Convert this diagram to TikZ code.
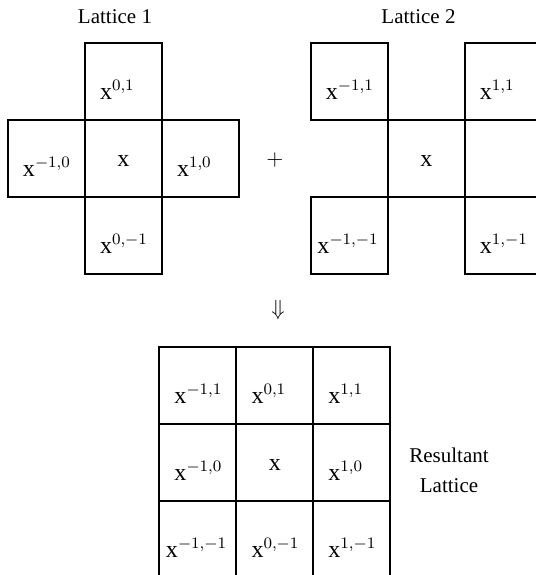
\documentclass[tikz,border=0pt]{standalone}
\usepackage{fontspec}
\setmainfont{Liberation Serif}
\usetikzlibrary{positioning}
\begin{document}
\begin{tikzpicture}[x=0.5pt,y=-0.5pt,node distance=38.5pt,on grid,
		font=\fontsize{10.5}{15}\selectfont,
		cell/.style={draw,line width=1pt,minimum size=38.5pt,inner sep=0pt,
			inner xsep=7.5pt,text width=23.5pt,align=left,
			text height=18pt,text depth=0pt,font=\fontsize{12}{14}\selectfont},
		wide/.style={cell,inner xsep=3.25pt,text width=32pt},
		mid/.style={cell,align=center,text height=8pt}]
		\useasboundingbox (0,0) rectangle (536,575);

		% lattice 1
		\node[mid]     (l1)                      at (123.5,158.5) {x};
		\node[cell]    (l1n)  [above=of l1]      {$\mathrm{x}^{0,1}$};
		\node[cell]    (l1s)  [below=of l1]      {$\mathrm{x}^{0,-1}$};
		\node[cell]    (l1w)  [left=of l1]       {$\mathrm{x}^{-1,0}$};
		\node[cell]    (l1e)  [right=of l1]      {$\mathrm{x}^{1,0}$};
		\node          (t1)                      at (115,17) {Lattice 1};

		\node          (plus)                    at (275,160) {$+$};

		% lattice 2
		\node[mid]     (l2)                      at (426.5,158.5) {x};
		\node[cell]    (l2nw) [above left=38.5pt and 38.5pt of l2]  {$\mathrm{x}^{-1,1}$};
		\node[cell]    (l2ne) [above right=38.5pt and 38.5pt of l2] {$\mathrm{x}^{1,1}$};
		\node[wide]    (l2sw) [below left=38.5pt and 38.5pt of l2]  {$\mathrm{x}^{-1,-1}$};
		\node[cell]    (l2se) [below right=38.5pt and 38.5pt of l2] {$\mathrm{x}^{1,-1}$};
		\node          (t2)                      at (418.5,17) {Lattice 2};

		\node          (arr)                     at (278,310) {$\Downarrow$};

		% resultant lattice
		\node[mid]     (r)                       at (275,462) {x};
		\node[cell]    (rn)   [above=of r]       {$\mathrm{x}^{0,1}$};
		\node[cell]    (rs)   [below=of r]       {$\mathrm{x}^{0,-1}$};
		\node[cell]    (rw)   [left=of r]        {$\mathrm{x}^{-1,0}$};
		\node[cell]    (re)   [right=of r]       {$\mathrm{x}^{1,0}$};
		\node[cell]    (rnw)  [above left=38.5pt and 38.5pt of r]  {$\mathrm{x}^{-1,1}$};
		\node[cell]    (rne)  [above right=38.5pt and 38.5pt of r] {$\mathrm{x}^{1,1}$};
		\node[wide]    (rsw)  [below left=38.5pt and 38.5pt of r]  {$\mathrm{x}^{-1,-1}$};
		\node[cell]    (rse)  [below right=38.5pt and 38.5pt of r] {$\mathrm{x}^{1,-1}$};
		\node[align=center] (tr)                 at (449,470) {Resultant\\Lattice};

	\end{tikzpicture}
\end{document}
